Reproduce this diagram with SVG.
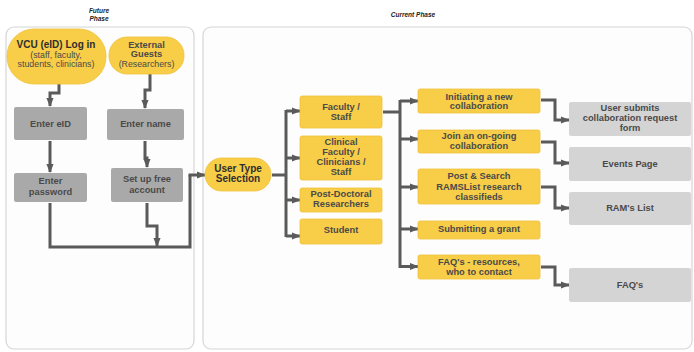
<svg xmlns="http://www.w3.org/2000/svg" width="694" height="352" viewBox="0 0 694 352">
<defs>
<marker id="ah" viewBox="0 0 10 10" refX="9" refY="5" markerWidth="9" markerHeight="9" markerUnits="userSpaceOnUse" orient="auto">
<path d="M0,1 L10,5 L0,9 Z" fill="#5a5a5a"/>
</marker>
<style>
.panel{fill:#fdfdfd;stroke:#d6d6d6;stroke-width:1.2}
.ptitle{font-family:"Liberation Sans",Arial,sans-serif;font-size:6.5px;font-style:italic;font-weight:bold;fill:#222;text-anchor:middle}
.yel{fill:#f8cd47;stroke:#f0c23a;stroke-width:0.8}
.gd{fill:#a9a9a9}
.gl{fill:#d4d4d4}
.t{font-family:"Liberation Sans",Arial,sans-serif;font-size:9.3px;fill:#4a4a4a;text-anchor:middle;font-weight:bold}
.tn{font-family:"Liberation Sans",Arial,sans-serif;font-size:8.8px;fill:#4a4a4a;text-anchor:middle}
.tb{font-family:"Liberation Sans",Arial,sans-serif;font-size:10px;fill:#2e2e2e;text-anchor:middle;font-weight:bold}
.c{fill:none;stroke:#5a5a5a;stroke-width:3;stroke-linejoin:miter}
.ca{fill:none;stroke:#5a5a5a;stroke-width:3;marker-end:url(#ah)}
</style>
</defs>
<rect width="694" height="352" fill="#ffffff"/>

<g id="future-phase">
<rect class="panel" x="6" y="27" width="188" height="322" rx="8"/>
<text class="ptitle" x="99" y="13">Future</text>
<text class="ptitle" x="99" y="21">Phase</text>
</g>
<g id="current-phase">
<rect class="panel" x="203" y="27" width="489" height="322" rx="8"/>
<text class="ptitle" x="413" y="17">Current Phase</text>
</g>

<g id="connectors">
<path class="ca" d="M59,84 V93 H50 V106"/>
<path class="ca" d="M150,74 V90 H145 V108"/>
<path class="ca" d="M50,141 V172"/>
<path class="ca" d="M145,141 V158 H147 V167"/>
<path class="c" d="M50,203 V247 H190 V175"/>
<path class="ca" d="M188.5,175 H205"/>
<path class="ca" d="M147,203 V226 H157 V246"/>
<path class="c" d="M272,175 H286"/>
<path class="c" d="M286,110 V237"/>
<path class="ca" d="M286,111 H300"/>
<path class="ca" d="M286,158 H300"/>
<path class="ca" d="M286,200 H300"/>
<path class="ca" d="M286,236 H300"/>
<path class="c" d="M383,112 H400"/>
<path class="c" d="M400,100 V268"/>
<path class="ca" d="M400,101 H418"/>
<path class="ca" d="M400,139 H418"/>
<path class="ca" d="M400,187 H418"/>
<path class="ca" d="M400,229 H418"/>
<path class="ca" d="M400,266.5 H418"/>
<path class="ca" d="M541,100 H555 V120 H569"/>
<path class="ca" d="M541,142 H555 V163 H569"/>
<path class="ca" d="M541,187 H555 V208 H569"/>
<path class="ca" d="M541,267 H555 V285 H569"/>
</g>

<g id="vcu-login">
<rect class="yel" x="7" y="29" width="99" height="55" rx="27"/>
<text class="tb" x="56" y="48">VCU (eID) Log in</text>
<text class="tn" x="56" y="57.5">(staff, faculty,</text>
<text class="tn" x="56" y="67">students, clinicians)</text>
</g>
<g id="external-guests">
<rect class="yel" x="109" y="37" width="75" height="37" rx="18"/>
<text class="t" x="146.5" y="47.5">External</text>
<text class="t" x="146.5" y="57">Guests</text>
<text class="tn" x="146.5" y="67">(Researchers)</text>
</g>
<g id="enter-eid">
<rect class="gd" x="14" y="107" width="73" height="33" rx="2"/>
<text class="t" x="50.5" y="127">Enter eID</text>
</g>
<g id="enter-name">
<rect class="gd" x="107" y="109" width="77" height="31" rx="2"/>
<text class="t" x="145.5" y="127">Enter name</text>
</g>
<g id="enter-password">
<rect class="gd" x="14" y="173" width="73" height="29" rx="2"/>
<text class="t" x="50.5" y="184">Enter</text>
<text class="t" x="50.5" y="195">password</text>
</g>
<g id="set-up-account">
<rect class="gd" x="111" y="168" width="72" height="34" rx="2"/>
<text class="t" x="147" y="182">Set up free</text>
<text class="t" x="147" y="193">account</text>
</g>

<g id="user-type-selection">
<rect class="yel" x="205" y="158" width="66" height="33" rx="16.5"/>
<text class="tb" x="238" y="172">User Type</text>
<text class="tb" x="238" y="182">Selection</text>
</g>
<g id="faculty-staff">
<rect class="yel" x="300" y="96" width="82" height="32" rx="2"/>
<text class="t" x="341" y="110">Faculty  /</text>
<text class="t" x="341" y="119.5">Staff</text>
</g>
<g id="clinical-faculty">
<rect class="yel" x="300" y="136" width="82" height="44" rx="2"/>
<text class="t" x="341" y="145">Clinical</text>
<text class="t" x="341" y="155">Faculty /</text>
<text class="t" x="341" y="165">Clinicians  /</text>
<text class="t" x="341" y="175">Staff</text>
</g>
<g id="post-doctoral">
<rect class="yel" x="300" y="188" width="82" height="24" rx="2"/>
<text class="t" x="341" y="197">Post-Doctoral</text>
<text class="t" x="341" y="206.5">Researchers</text>
</g>
<g id="student">
<rect class="yel" x="300" y="219" width="82" height="25" rx="2"/>
<text class="t" x="341" y="233">Student</text>
</g>

<g id="initiating-collaboration">
<rect class="yel" x="418" y="89" width="122" height="24" rx="2"/>
<text class="t" x="479" y="99.5">Initiating a new</text>
<text class="t" x="479" y="109">collaboration</text>
</g>
<g id="join-collaboration">
<rect class="yel" x="418" y="130" width="122" height="23" rx="2"/>
<text class="t" x="479" y="139">Join an on-going</text>
<text class="t" x="479" y="149">collaboration</text>
</g>
<g id="post-search-ramslist">
<rect class="yel" x="418" y="169" width="122" height="35" rx="2"/>
<text class="t" x="479" y="179">Post &amp; Search</text>
<text class="t" x="479" y="189.5">RAMSList research</text>
<text class="t" x="479" y="199.5">classifieds</text>
</g>
<g id="submitting-grant">
<rect class="yel" x="418" y="221" width="122" height="18" rx="2"/>
<text class="t" x="479" y="232">Submitting a grant</text>
</g>
<g id="faqs-resources">
<rect class="yel" x="418" y="255" width="122" height="24" rx="2"/>
<text class="t" x="479" y="265">FAQ's - resources,</text>
<text class="t" x="479" y="274.5">who to contact</text>
</g>

<g id="user-submits-form">
<rect class="gl" x="569" y="102" width="122" height="34" rx="2"/>
<text class="t" x="630" y="111">User submits</text>
<text class="t" x="630" y="121">collaboration request</text>
<text class="t" x="630" y="131">form</text>
</g>
<g id="events-page">
<rect class="gl" x="569" y="147" width="122" height="34" rx="2"/>
<text class="t" x="630" y="167">Events Page</text>
</g>
<g id="rams-list">
<rect class="gl" x="569" y="192" width="122" height="33" rx="2"/>
<text class="t" x="630" y="211">RAM's List</text>
</g>
<g id="faqs">
<rect class="gl" x="569" y="268" width="122" height="34" rx="2"/>
<text class="t" x="630" y="288">FAQ's</text>
</g>
</svg>
